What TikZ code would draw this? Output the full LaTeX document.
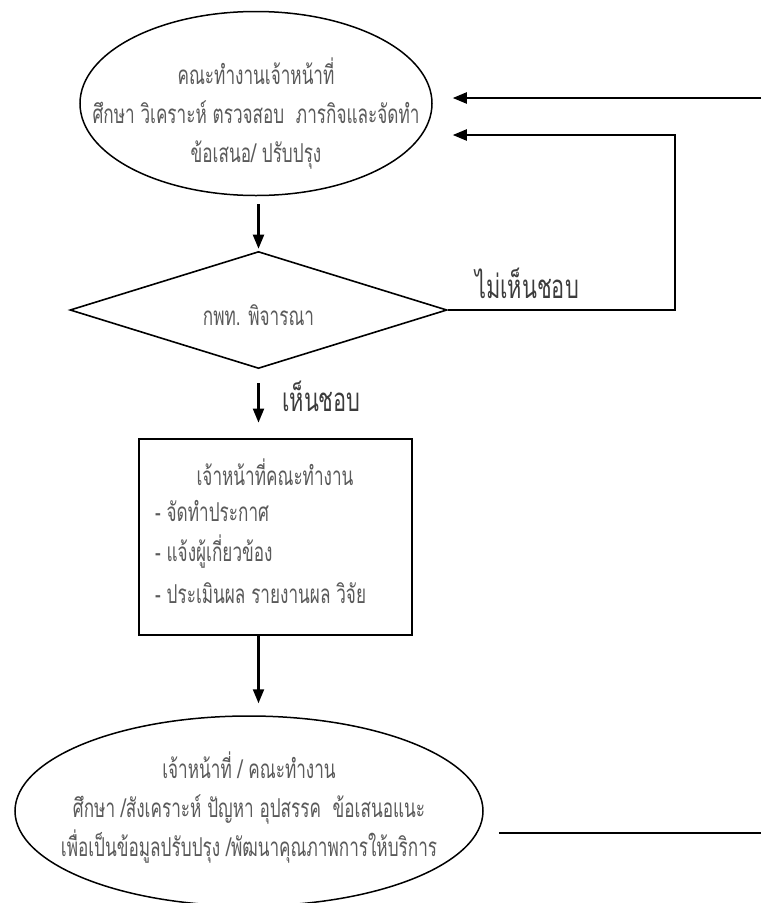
\documentclass[tikz,border=0pt]{standalone}
\usepackage{fontspec}
\newfontfamily\thaibody[Script=Thai,FakeStretch=0.66]{Loma}
\newfontfamily\thailabel[Script=Thai,FakeStretch=0.66]{Loma}
\usetikzlibrary{shapes.geometric,arrows.meta}
\definecolor{txtgray}{HTML}{5A5A5A}
\definecolor{lblgray}{HTML}{3C3C3C}
\begin{document}
\begin{tikzpicture}[x=1pt,y=-1pt,
  body/.style={font=\thaibody\fontsize{26}{39}\selectfont, text=txtgray, inner sep=0pt, align=center},
  lbl/.style={font=\thailabel\fontsize{33}{36}\selectfont, text=lblgray, inner sep=0pt},
  oval/.style={draw, ellipse, line width=1.5pt, inner sep=0pt},
  conn/.style={line width=2.1pt},
  arr/.style={conn, -{Triangle[length=14pt,width=11pt]}}
]
\useasboundingbox[fill=white] (0,0) rectangle (761,903);

% top oval: study and proposal
\node[oval, minimum width=352pt, minimum height=184pt] (e1) at (256,103.5) {};
\node[body] (e1t) at (256,114) {คณะทำงานเจ้าหน้าที่\\ศึกษา วิเคราะห์ ตรวจสอบ\ \ ภารกิจและจัดทำ\\ข้อเสนอ/ ปรับปรุง};

% decision
\node[draw, diamond, line width=1.6pt, minimum width=377pt, minimum height=117pt, inner sep=0pt] (d) at (258.5,310) {};
\node[body] (dt) at (258.5,315) {กพท. พิจารณา};

% action box
\node[draw, rectangle, line width=2.8pt, minimum width=273pt, minimum height=196pt, inner sep=0pt] (box) at (275.5,537) {};
\node[body] (bt) at (275,472) {เจ้าหน้าที่คณะทำงาน};
\node[body, anchor=west] (b1) at (155,511) {- จัดทำประกาศ};
\node[body, anchor=west] (b2) at (155,552) {- แจ้งผู้เกี่ยวข้อง};
\node[body, anchor=west] (b3) at (155,593) {- ประเมินผล รายงานผล วิจัย};

% bottom oval: review and improvement
\node[oval, minimum width=468pt, minimum height=190pt] (e2) at (249,811) {};
\node[body] (e2t) at (249,808) {เจ้าหน้าที่ / คณะทำงาน\\ศึกษา /สังเคราะห์ ปัญหา อุปสรรค\ \ ข้อเสนอแนะ\\เพื่อเป็นข้อมูลปรับปรุง /พัฒนาคุณภาพการให้บริการ};

% labels
\node[lbl] (no) at (527,283) {ไม่เห็นชอบ};
\node[lbl, anchor=west] (yes) at (282,396) {เห็นชอบ};

% loop coordinates at the page edge
\coordinate (in1) at (761,98);
\coordinate (r2) at (675,135);
\coordinate (out1) at (761,833);

% connectors
\draw[arr, shorten <=8pt, shorten >=2pt] (e1.south -| d.north) -- (d.north);
\draw[arr, shorten <=14pt, shorten >=15pt] (d.south) -- (d.south |- box.north);
\draw[arr, shorten >=12pt] (d.south |- box.south) -- (d.south |- e2.north);
\draw[arr] (d.east) -| (r2) -- ([xshift=20pt]e1.east |- r2);
\draw[arr] (in1) -- ([xshift=20pt]e1.east |- in1);
\draw[conn] ([xshift=15pt]e2.east |- out1) -- (out1);
\end{tikzpicture}
\end{document}
